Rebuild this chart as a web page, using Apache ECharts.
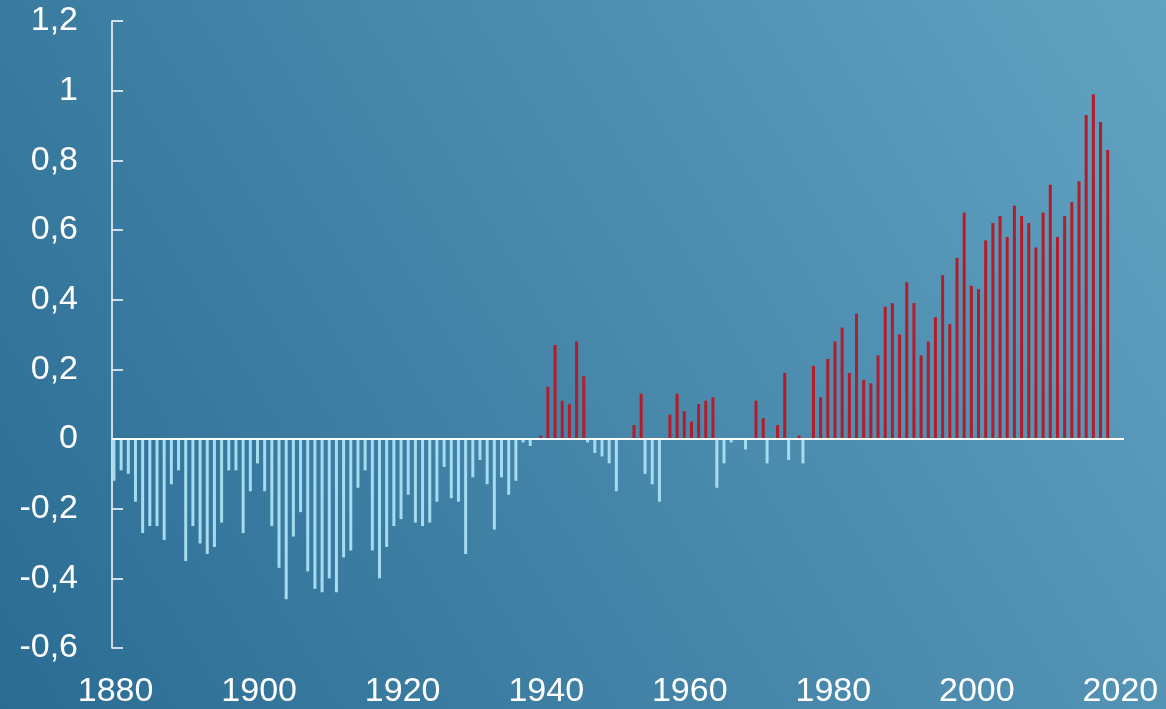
<!DOCTYPE html>
<html>
<head>
<meta charset="utf-8">
<script src="https://cdn.jsdelivr.net/npm/echarts@6/dist/echarts.min.js"></script>
<style>
html,body{margin:0;padding:0;}
#chart{width:1166px;height:709px;}
</style>
</head>
<body>
<div id="chart"></div>
<script>
// Years on the category axis (1880..2020)
const firstYear = 1880;
const lastYear = 2020;
// Annual anomaly values 1880..2018
const anomalies = [
  -0.12, -0.09, -0.10, -0.18, -0.27, -0.25, -0.25, -0.29, -0.13, -0.09, // 1880s
  -0.35, -0.25, -0.30, -0.33, -0.31, -0.24, -0.09, -0.09, -0.27, -0.15, // 1890s
  -0.07, -0.15, -0.25, -0.37, -0.46, -0.28, -0.21, -0.38, -0.43, -0.44, // 1900s
  -0.40, -0.44, -0.34, -0.32, -0.14, -0.09, -0.32, -0.40, -0.31, -0.25, // 1910s
  -0.23, -0.16, -0.24, -0.25, -0.24, -0.18, -0.08, -0.17, -0.18, -0.33, // 1920s
  -0.11, -0.06, -0.13, -0.26, -0.11, -0.16, -0.12, -0.01, -0.02, 0.01,  // 1930s
  0.15, 0.27, 0.11, 0.10, 0.28, 0.18, -0.01, -0.04, -0.05, -0.07,      // 1940s
  -0.15, 0, 0.04, 0.13, -0.10, -0.13, -0.18, 0.07, 0.13, 0.08,         // 1950s
  0.05, 0.10, 0.11, 0.12, -0.14, -0.07, -0.01, 0, -0.03, 0.11,         // 1960s
  0.06, -0.07, 0.04, 0.19, -0.06, 0.01, -0.07, 0.21, 0.12, 0.23,       // 1970s
  0.28, 0.32, 0.19, 0.36, 0.17, 0.16, 0.24, 0.38, 0.39, 0.30,          // 1980s
  0.45, 0.39, 0.24, 0.28, 0.35, 0.47, 0.33, 0.52, 0.65, 0.44,          // 1990s
  0.43, 0.57, 0.62, 0.64, 0.58, 0.67, 0.64, 0.62, 0.55, 0.65,          // 2000s
  0.73, 0.58, 0.64, 0.68, 0.74, 0.93, 0.99, 0.91, 0.83                 // 2010s
];
const yTickLabels = ['-0,6','-0,4','-0,2','0','0,2','0,4','0,6','0,8','1','1,2'];

const years = [];
for (let y = firstYear; y <= lastYear; y++) years.push(String(y));
const negValues = years.map((y, i) => (anomalies[i] !== undefined && anomalies[i] < 0) ? anomalies[i] : null);
const posValues = years.map((y, i) => (anomalies[i] !== undefined && anomalies[i] > 0) ? anomalies[i] : null);

const FONT = "'Liberation Sans', Arial, sans-serif";
const chart = echarts.init(document.getElementById('chart'), null, {renderer: 'canvas'});
chart.setOption({
  animation: false,
  backgroundColor: {
    type: 'linear', x: 0, y: 1, x2: 1, y2: 0,
    colorStops: [
      {offset: 0, color: '#2b6c94'},
      {offset: 1, color: '#62a2c1'}
    ]
  },
  grid: {left: 112, right: 42, top: 21, bottom: 61, containLabel: false},
  xAxis: {
    type: 'category',
    data: years,
    boundaryGap: true,
    axisLine: {show: false},
    axisTick: {show: false},
    splitLine: {show: false},
    axisLabel: {
      interval: 19,
      color: '#ffffff',
      fontSize: 34,
      fontFamily: FONT,
      margin: 27
    }
  },
  yAxis: {
    type: 'value',
    min: -0.6,
    max: 1.2,
    interval: 0.2,
    axisLine: {show: true, lineStyle: {color: '#ffffff', width: 1.5}},
    axisTick: {show: true, inside: true, length: 11, lineStyle: {color: '#ffffff', width: 1.5}},
    splitLine: {show: false},
    axisLabel: {
      color: '#ffffff',
      fontSize: 34,
      fontFamily: FONT,
      margin: 34,
      formatter: function (v) {
        const idx = Math.round((v + 0.6) / 0.2);
        return yTickLabels[idx] !== undefined ? yTickLabels[idx] : '';
      }
    }
  },
  series: [
    {
      name: 'negative',
      type: 'bar',
      data: negValues,
      barWidth: 3,
      itemStyle: {color: '#a6dcef'}
    },
    {
      name: 'positive',
      type: 'bar',
      data: posValues,
      barWidth: 3,
      itemStyle: {color: '#b51c2a'},
      markLine: {
        silent: true,
        symbol: 'none',
        label: {show: false},
        lineStyle: {color: '#ffffff', width: 2, type: 'solid'},
        data: [{yAxis: 0}]
      }
    }
  ]
});
</script>
</body>
</html>
